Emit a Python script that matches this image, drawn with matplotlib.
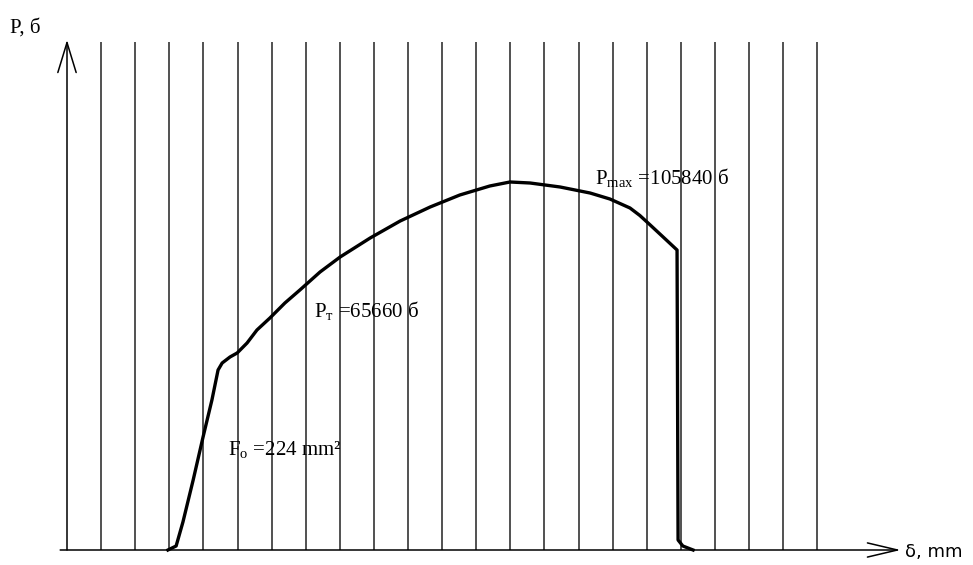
import matplotlib.pyplot as plt
import numpy as np

# load-elongation curve (x in grid divisions, P in kgf)
curve_x = [2.96, 3.20, 3.40, 3.70, 3.99, 4.25, 4.43, 4.55, 4.78, 4.99, 5.28, 5.57,
           5.95, 6.39, 6.83, 7.42, 8.01, 8.89, 9.77, 10.65, 11.52, 12.40, 12.99,
           13.58, 14.46, 15.34, 15.92, 16.51, 16.80, 17.10, 17.45, 17.89, 17.92, 18.06, 18.36]
curve_p = [0, 1150, 8050, 20130, 32500, 43140, 51770, 53780, 55510, 56660, 59530, 63270,
           66720, 71040, 74780, 79950, 84270, 89730, 94620, 98650, 102100, 104690, 105840,
           105550, 104400, 102670, 100950, 98360, 96200, 93500, 90310, 86280, 2880, 1150, 0]

grid_x = np.arange(0, 23)
grid_top = 146100
axis_top = 146700

plt.rcParams['font.family'] = ['Liberation Serif', 'DejaVu Serif']
plt.rcParams['mathtext.fontset'] = 'custom'
plt.rcParams['mathtext.rm'] = 'Liberation Serif'

fig = plt.figure(figsize=(9.73, 5.65), dpi=100)
ax = fig.add_axes([0, 0, 1, 1])
ax.set_xlim(-67 / 34.1, (973 - 67) / 34.1)
ax.set_ylim(-15 * 287.6, 550 * 287.6)
ax.axis('off')

# vertical grid lines
ax.vlines(grid_x[1:], 0, grid_top, color='#222222', lw=1.1)

# axes with open arrows
ax.annotate('', xy=(0, axis_top), xytext=(0, 0),
            arrowprops=dict(arrowstyle='->,head_length=0.72,head_width=0.22', color='black',
                            lw=1.1, mutation_scale=30, shrinkA=0, shrinkB=0))
ax.annotate('', xy=(24.45, 0), xytext=(-0.2, 0),
            arrowprops=dict(arrowstyle='->,head_length=0.72,head_width=0.17', color='black',
                            lw=1.1, mutation_scale=30, shrinkA=0, shrinkB=0))

ax.plot(curve_x, curve_p, color='black', lw=2.4, solid_joinstyle='round')

ax.text(10 / 973, 1 - 28 / 565, 'P, б', transform=ax.transAxes, fontsize=15,
        va='center', ha='left')
ax.text(905 / 973, 1 - 552 / 565, 'δ, mm', transform=ax.transAxes, fontsize=13,
        va='center', ha='left', family=['DejaVu Sans'])

ax.text(595 / 973, 1 - 184 / 565, r'P$_{\rm max}$ =105840 б', transform=ax.transAxes,
        fontsize=15, va='baseline', ha='left')
ax.text(314 / 973, 1 - 317 / 565, r'P$_{\rm т}$ =65660 б', transform=ax.transAxes,
        fontsize=15, va='baseline', ha='left')
ax.text(228 / 973, 1 - 455 / 565, r'F$_{\rm o}$ =224 mm²', transform=ax.transAxes,
        fontsize=15, va='baseline', ha='left')

fig.savefig('out.png', dpi=100, facecolor='white')
